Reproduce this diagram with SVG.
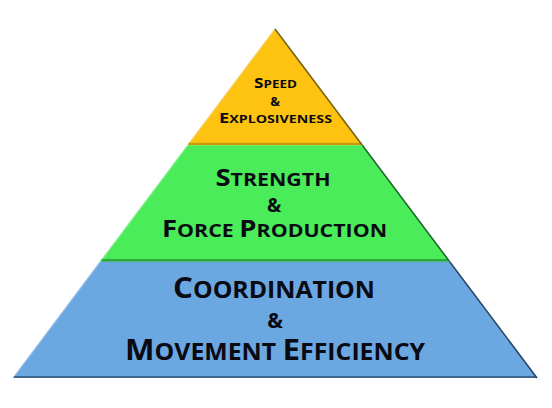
<svg xmlns="http://www.w3.org/2000/svg" width="552" height="408" viewBox="0 0 552 408">
<style>
.t{font-family:"Open Sans",Lato,"Liberation Sans",sans-serif;font-weight:bold;fill:#0a0a12;text-anchor:middle}
.yl{fill:#FEC310}
.gr{fill:#4BEC5A}
.bl{fill:#6BA7E1}
.edge{fill:none;stroke-linejoin:round}
</style>
<rect width="552" height="408" fill="#ffffff"/>
<g id="layer-speed">
<polygon class="yl" points="275,29 362.3,145.3 187.7,145.3"/>
<line class="edge" x1="275" y1="29" x2="187.7" y2="145.3" stroke="#F4D060" stroke-width="1.2"/>
<line class="edge" x1="188.5" y1="144" x2="361.5" y2="144" stroke="#C99A0A" stroke-width="2.6"/>
<line class="edge" x1="275" y1="29" x2="362.3" y2="145.3" stroke="#7A6410" stroke-width="1.6"/>
<text class="t" x="275.5" y="88" font-size="14.5" textLength="43" lengthAdjust="spacingAndGlyphs">S<tspan font-size="11.3">PEED</tspan></text>
<text class="t" x="275" y="106" font-size="13">&amp;</text>
<text class="t" x="275.5" y="123" font-size="14.5" textLength="113" lengthAdjust="spacingAndGlyphs">E<tspan font-size="11.3">XPLOSIVENESS</tspan></text>
</g>
<g id="layer-strength">
<polygon class="gr" points="187.7,145.3 362.3,145.3 449.7,261.7 100.3,261.7"/>
<line class="edge" x1="187.7" y1="145.3" x2="100.3" y2="261.7" stroke="#8CF090" stroke-width="1.2"/>
<line class="edge" x1="101.5" y1="260.3" x2="448.5" y2="260.3" stroke="#2FA83C" stroke-width="2.8"/>
<line class="edge" x1="362.3" y1="145.3" x2="449.7" y2="261.7" stroke="#1D6B27" stroke-width="1.6"/>
<text class="t" x="273" y="186" font-size="23.5" textLength="115" lengthAdjust="spacingAndGlyphs">S<tspan font-size="18.3">TRENGTH</tspan></text>
<text class="t" x="274" y="212" font-size="19">&amp;</text>
<text class="t" x="274.5" y="237" font-size="23.5" textLength="225" lengthAdjust="spacingAndGlyphs">F<tspan font-size="18.3">ORCE </tspan>P<tspan font-size="18.3">RODUCTION</tspan></text>
</g>
<g id="layer-coordination">
<polygon class="bl" points="100.3,261.7 449.7,261.7 537,378 13,378"/>
<line class="edge" x1="100.3" y1="261.7" x2="13" y2="378" stroke="#9CC4EC" stroke-width="1.2"/>
<line class="edge" x1="14" y1="377" x2="536" y2="377" stroke="#3E6690" stroke-width="2.2"/>
<line class="edge" x1="449.7" y1="261.7" x2="537" y2="378" stroke="#2A4866" stroke-width="1.6"/>
<text class="t" x="274" y="298" font-size="29" textLength="202" lengthAdjust="spacingAndGlyphs">C<tspan font-size="23">OORDINATION</tspan></text>
<text class="t" x="275" y="328" font-size="21">&amp;</text>
<text class="t" x="275" y="360" font-size="29" textLength="300" lengthAdjust="spacingAndGlyphs">M<tspan font-size="23">OVEMENT </tspan>E<tspan font-size="23">FFICIENCY</tspan></text>
</g>
<g id="connectors"></g>
</svg>
